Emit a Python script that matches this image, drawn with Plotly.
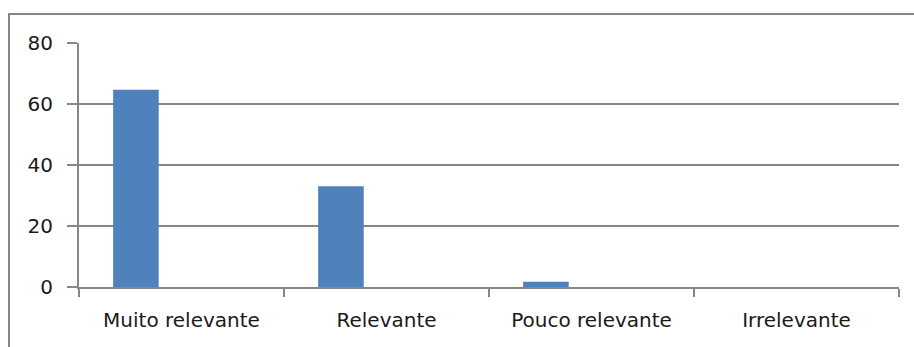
import plotly.graph_objects as go

categories = ["Muito relevante", "Relevante", "Pouco relevante", "Irrelevante"]
series1 = [64.7, 33.0, 1.7, 0.0]
series2 = [None, None, None, None]
series3 = [None, None, None, None]
y_ticks = [0, 20, 40, 60, 80]

GRID = "#878787"
BLUE = "#4F81BD"
FONT = dict(family="DejaVu Sans, sans-serif", size=20, color="#1a1a1a")

fig = go.Figure()
for vals in (series1, series2, series3):
    fig.add_trace(go.Bar(x=categories, y=vals, marker=dict(color=BLUE, line=dict(width=0)),
                         showlegend=False))

fig.update_layout(
    width=914, height=347,
    margin=dict(l=79, r=15, t=43, b=60),
    paper_bgcolor="white", plot_bgcolor="white",
    barmode="group", bargap=0.333, bargroupgap=0,
    font=FONT,
)
fig.update_xaxes(
    showgrid=False, showline=True, linecolor=GRID, linewidth=2,
    ticks="outside", tickson="boundaries", ticklen=8, tickcolor=GRID, tickwidth=2,
    tickfont=FONT, ticklabelstandoff=14,
)
fig.update_yaxes(
    range=[0, 80], tickvals=y_ticks, showgrid=True, gridcolor=GRID, gridwidth=2,
    showline=True, linecolor=GRID, linewidth=2, zeroline=False,
    ticks="outside", ticklen=10, tickcolor=GRID, tickwidth=2,
    tickfont=FONT, ticklabelstandoff=10,
)

# chart area border (extends past right/bottom edges as in the reference)
fig.add_shape(type="rect", xref="paper", yref="paper",
              x0=(9 - 79) / 820, x1=(917 - 79) / 820,
              y0=(287 - 350) / 244, y1=(287 - 14) / 244,
              line=dict(color=GRID, width=2), fillcolor="rgba(0,0,0,0)", layer="below")

fig.write_html("out.html")
